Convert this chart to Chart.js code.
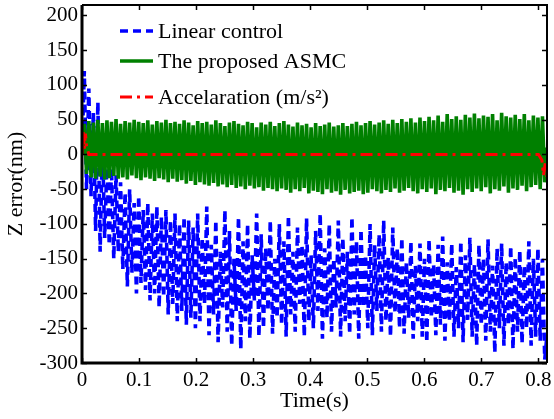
<!DOCTYPE html>
<html>
<head>
<meta charset="utf-8">
<script src="https://cdn.jsdelivr.net/npm/chart.js@4.4.1/dist/chart.umd.min.js"></script>
<style>
  html, body { margin: 0; padding: 0; background: #ffffff; }
  canvas { display: block; }
</style>
</head>
<body>
<canvas id="c" width="554" height="419"></canvas>
<script>
// ---------------- data ----------------
const T_END = 0.815;           // record length (s)
const yTicks = [-300, -250, -200, -150, -100, -50, 0, 50, 100, 150, 200];
const xTicks = [0, 0.1, 0.2, 0.3, 0.4, 0.5, 0.6, 0.7, 0.8];
const xTickLabels = ['0', '0.1', '0.2', '0.3', '0.4', '0.5', '0.6', '0.7', '0.8'];
const seriesNames = ['Linear control', 'The proposed ASMC', 'Accelaration (m/s\u00B2)'];

// Linear control error (nm): alternating peaks / troughs, evenly sampled over 0..T_END
const linearControl = [
  0,
  120, -50,   95, -60,   60, -110,  75, -140,  20, -120,
  -10, -130, -20, -150, -30, -140, -40, -165, -55, -190,
  -50, -170, -70, -200, -60, -185, -80, -195, -70, -210,
  -85, -200, -75, -220, -90, -205, -80, -230, -95, -215,
  -85, -240, -100, -225, -90, -245, -95, -235, -105, -250,
  -85, -240, -120, -215, -75, -260, -130, -230, -95, -270,
  -140, -220, -80, -255, -110, -275, -150, -225, -90, -280,
  -125, -240, -100, -265, -145, -210, -85, -262, -115, -250,
  -135, -225, -95, -258, -150, -235, -100, -245, -125, -262,
  -88, -230, -140, -255, -105, -215, -130, -262, -92, -240,
  -145, -250, -110, -225, -85, -265, -135, -235, -100, -255,
  -150, -220, -95, -262, -120, -240, -140, -258, -90, -230,
  -125, -265, -108, -220, -145, -250, -100, -260, -130, -225,
  -115, -255, -95, -240, -148, -262, -105, -228, -135, -250,
  -120, -258, -155, -235, -125, -265, -160, -240, -128, -262,
  -150, -270, -122, -235, -158, -260, -130, -245, -118, -268,
  -155, -240, -128, -262, -162, -250, -125, -270, -145, -238,
  -120, -262, -158, -275, -130, -245, -150, -268, -122, -255,
  -160, -285, -135, -250, -128, -275, -155, -245, -132, -280,
  -148, -255, -138, -272, -160, -250, -125, -275, -150, -262,
  -135, -268, -150, -295,
  -260
];

// Proposed ASMC error (nm): alternating peaks / troughs, evenly sampled over 0..T_END
const proposedASMC = [
  0,
  44, -28, 48, -33, 46, -35, 50, -32, 45, -36,
  49, -34, 47, -31, 51, -35, 44, -33, 48, -36,
  46, -30, 50, -34, 47, -37, 45, -33, 49, -35,
  43, -38, 48, -34, 46, -36, 50, -40, 45, -35,
  47, -39, 44, -37, 49, -42, 46, -38, 42, -44,
  48, -40, 45, -43, 47, -45, 43, -41, 49, -46,
  45, -43, 41, -47, 46, -44, 48, -48, 44, -46,
  42, -50, 47, -45, 45, -49, 39, -47, 46, -52,
  43, -48, 47, -50, 41, -53, 45, -49, 48, -51,
  43, -55, 40, -50, 46, -53, 42, -48, 44, -56,
  39, -52, 45, -54, 41, -57, 43, -50, 46, -55,
  40, -53, 42, -58, 45, -51, 41, -56, 44, -54,
  47, -52, 42, -57, 45, -55, 48, -50, 43, -53,
  46, -56, 49, -51, 44, -54, 50, -49, 45, -55,
  51, -52, 47, -48, 52, -53, 46, -56, 53, -50,
  48, -54, 54, -49, 49, -57, 56, -51, 47, -53,
  58, -48, 51, -55, 55, -52, 50, -58, 57, -50,
  53, -54, 59, -49, 52, -53, 56, -47, 54, -56,
  58, -50, 49, -52, 60, -46, 55, -55, 53, -49,
  57, -51, 51, -45, 58, -53, 49, -47, 56, -44,
  53, -50, 55, -40,
  10
];

// Acceleration trace: times (s) and values
const accelTime   = [0, 0.002, 0.004, 0.006, 0.008, 0.012, 0.80, 0.806, 0.809, 0.812, 0.815];
const accelValues = [0, 34, 8, 30, 12, 0, 0, -8, -30, -12, -32];

// ---------------- chart ----------------
function toPoints(values) {
  const step = T_END / (values.length - 1);
  return values.map((v, i) => ({ x: i * step, y: v }));
}
const accelPoints = accelTime.map((t, i) => ({ x: t, y: accelValues[i] }));

const SERIF = '"Liberation Serif", "Times New Roman", serif';
const BLUE = '#0000FF', GREEN = '#008000', RED = '#FF0000';
const styles = [
  { color: BLUE, dash: [8, 5], width: 3.6 },
  { color: GREEN, dash: [], width: 3.6 },
  { color: RED, dash: [12, 5, 3, 5], width: 3 }
];

const framePlugin = {
  id: 'frameAndLegend',
  afterDraw(chart) {
    const ctx = chart.ctx;
    const a = chart.chartArea;
    const xs = chart.scales.x, ys = chart.scales.y;
    ctx.save();
    // inward ticks
    ctx.strokeStyle = '#000';
    ctx.lineWidth = 1.5;
    const TL = 5;
    ctx.beginPath();
    xTicks.forEach(v => {
      const px = Math.round(xs.getPixelForValue(v)) + 0.5;
      ctx.moveTo(px, a.bottom); ctx.lineTo(px, a.bottom - TL);
      ctx.moveTo(px, a.top); ctx.lineTo(px, a.top + TL);
    });
    yTicks.forEach(v => {
      const py = Math.round(ys.getPixelForValue(v)) + 0.5;
      ctx.moveTo(a.left, py); ctx.lineTo(a.left + TL, py);
      ctx.moveTo(a.right, py); ctx.lineTo(a.right - TL, py);
    });
    ctx.stroke();
    // frame
    ctx.lineWidth = 3;
    ctx.beginPath();
    ctx.moveTo(a.left, a.top); ctx.lineTo(a.left, a.bottom); ctx.lineTo(a.right, a.bottom);
    ctx.stroke();
    ctx.lineWidth = 2;
    ctx.beginPath();
    ctx.moveTo(a.left, a.top); ctx.lineTo(a.right, a.top); ctx.lineTo(a.right, a.bottom);
    ctx.stroke();

    // legend
    const rowsY = [a.top + 26, a.top + 56, a.top + 92];
    const x0 = a.left + 38, x1 = a.left + 71, tx = a.left + 76;
    seriesNames.forEach((name, i) => {
      const s = styles[i];
      ctx.strokeStyle = s.color;
      ctx.lineWidth = s.width;
      ctx.setLineDash(s.dash);
      ctx.beginPath();
      ctx.moveTo(x0, rowsY[i]); ctx.lineTo(x1, rowsY[i]);
      ctx.stroke();
      ctx.setLineDash([]);
      ctx.fillStyle = '#000';
      ctx.font = '22px ' + SERIF;
      ctx.textBaseline = 'middle';
      ctx.textAlign = 'left';
      ctx.fillText(name, tx, rowsY[i] + 1);
    });
    ctx.restore();
  }
};

new Chart(document.getElementById('c'), {
  type: 'line',
  data: {
    datasets: [
      { label: seriesNames[0], data: toPoints(linearControl), borderColor: BLUE,
        borderWidth: styles[0].width, borderDash: styles[0].dash, pointRadius: 0, tension: 0, order: 3 },
      { label: seriesNames[1], data: toPoints(proposedASMC), borderColor: GREEN,
        borderWidth: styles[1].width, pointRadius: 0, tension: 0, order: 2 },
      { label: seriesNames[2], data: accelPoints, borderColor: RED,
        borderWidth: styles[2].width, borderDash: styles[2].dash, pointRadius: 0, tension: 0, order: 1 }
    ]
  },
  options: {
    responsive: false,
    animation: false,
    devicePixelRatio: 1,
    layout: { padding: { top: 5, right: 7, left: 0, bottom: 0 } },
    plugins: { legend: { display: false }, tooltip: { enabled: false } },
    scales: {
      x: {
        type: 'linear', min: 0, max: T_END,
        grid: { display: false, drawTicks: false },
        border: { display: false },
        afterBuildTicks: s => { s.ticks = xTicks.map(v => ({ value: v })); },
        afterFit: s => { s.height = 56; s.paddingLeft = 0; s.paddingRight = 0; },
        ticks: {
          color: '#000', padding: 5, maxRotation: 0, autoSkip: false,
          font: { family: SERIF, size: 21 },
          callback: (v, i) => xTickLabels[i]
        },
        title: { display: true, text: 'Time(s)', color: '#000',
          font: { family: SERIF, size: 22 }, padding: { top: 0, bottom: 5 } }
      },
      y: {
        type: 'linear', min: -300, max: 215,
        grid: { display: false, drawTicks: false },
        border: { display: false },
        afterBuildTicks: s => { s.ticks = yTicks.map(v => ({ value: v })); },
        afterFit: s => { s.width = 82; s.paddingTop = 0; s.paddingBottom = 0; },
        ticks: {
          color: '#000', padding: 4, autoSkip: false,
          font: { family: SERIF, size: 21 },
          callback: v => String(v)
        },
        title: { display: true, text: 'Z error(nm)', color: '#000',
          font: { family: SERIF, size: 22 }, padding: { top: 3, bottom: 0 } }
      }
    }
  },
  plugins: [framePlugin]
});
</script>
</body>
</html>
